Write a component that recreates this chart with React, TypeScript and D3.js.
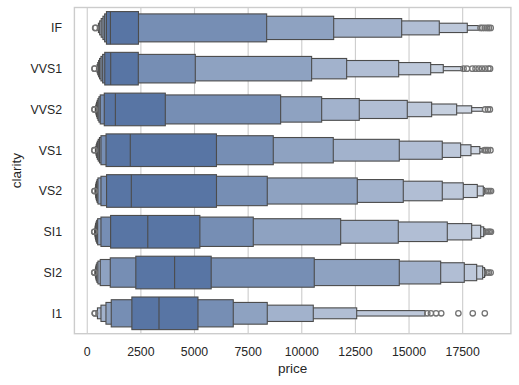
import React, { useEffect, useRef } from "react";
import * as d3 from "d3";

// letter-value summaries of price by clarity
const categories = ["IF", "VVS1", "VVS2", "VS1", "VS2", "SI1", "SI2", "I1"];

const medians = [1080, 1093, 1311, 2005, 2054, 2822, 4072, 3344];

// from the innermost box (quartiles) outward
const lowerValues = [
  [895, 811, 732, 650, 580, 520, 470],
  [816, 718, 639, 575, 530, 490, 460, 430],
  [794, 606, 545, 500, 465, 435, 410, 390, 375],
  [876, 639, 570, 513, 470, 440, 415, 395, 380],
  [900, 639, 499, 460, 430, 410, 395, 385, 375, 365],
  [1089, 639, 485, 440, 410, 390, 375, 365, 355, 350],
  [2264, 1073, 606, 499, 450, 420, 400, 385, 370, 360],
  [2080, 1119, 872, 639, 475, 405],
];

const upperValues = [
  [2388, 8363, 11487, 14657, 16410, 17715, 18274],
  [2379, 5036, 10459, 12092, 14517, 16009, 16596, 17500],
  [3638, 9015, 10927, 12680, 14918, 16054, 17220, 17920, 18420],
  [6023, 8671, 11468, 14545, 16549, 17407, 17887, 18300, 18440],
  [6024, 8391, 12587, 14731, 16549, 17528, 18181, 18461, 18517, 18563],
  [5250, 7739, 11813, 14498, 16783, 17920, 18340, 18480, 18540, 18580],
  [5777, 10582, 14545, 16475, 17575, 18153, 18433, 18520, 18570, 18610],
  [5161, 6806, 8391, 10536, 12560, 15750],
];

const outliers = [
  [369, 390, 18330, 18420, 18530, 18640, 18720, 18806],
  [336, 350, 17540, 17700, 17950, 18100, 18250, 18400, 18550, 18700, 18777],
  [336, 340, 18550, 18680, 18768],
  [327, 340, 18520, 18600, 18680, 18795],
  [334, 345, 18600, 18680, 18750, 18823],
  [326, 335, 18620, 18700, 18760, 18818],
  [326, 335, 18650, 18720, 18804],
  [345, 360, 15850, 16020, 16260, 16500, 17300, 17970, 18531],
];

const xTicks = [0, 2500, 5000, 7500, 10000, 12500, 15000, 17500];

const W = 519;
const H = 385;

const BoxenChart: React.FC = () => {
  const svgRef = useRef<SVGSVGElement>(null);

  useEffect(() => {
    if (!svgRef.current) return;
    const svg = d3.select(svgRef.current);
    svg.selectAll("*").remove();

    const plot = { left: 74.4, right: 510.9, top: 7.5, bottom: 333.7 };
    const font = "Arial, 'Liberation Sans', 'DejaVu Sans', sans-serif";
    const textColor = "#262626";
    const edge = "#4c4c4c";

    const x = d3.scaleLinear().domain([-599, 19748]).range([plot.left, plot.right]);
    const y = d3.scaleBand().domain(categories).range([plot.top, plot.bottom]);
    const band = y.bandwidth();
    const boxColor = d3.interpolateRgb("#ebeef3", "#5875a4");

    // vertical grid
    svg
      .append("g")
      .selectAll("line")
      .data(xTicks)
      .enter()
      .append("line")
      .attr("x1", (d) => x(d))
      .attr("x2", (d) => x(d))
      .attr("y1", plot.top)
      .attr("y2", plot.bottom)
      .style("stroke", "#cccccc")
      .style("stroke-width", 1.1);

    // boxes, outermost first so the inner ones sit on top
    categories.forEach((c, i) => {
      const cy = y(c)! + band / 2;
      const lows = lowerValues[i];
      const highs = upperValues[i];
      const k = lows.length;
      const g = svg.append("g");

      for (let j = k - 1; j >= 0; j--) {
        const h = (0.8 * band * (k - j)) / k;
        g.append("rect")
          .attr("x", x(lows[j]))
          .attr("y", cy - h / 2)
          .attr("width", x(highs[j]) - x(lows[j]))
          .attr("height", h)
          .style("fill", boxColor(Math.pow(2, -j / 3)))
          .style("stroke", edge)
          .style("stroke-width", 1.1);
      }

      const h0 = 0.8 * band;
      g.append("line")
        .attr("x1", x(medians[i]))
        .attr("x2", x(medians[i]))
        .attr("y1", cy - h0 / 2)
        .attr("y2", cy + h0 / 2)
        .style("stroke", edge)
        .style("stroke-width", 1.1);

      g.selectAll("circle")
        .data(outliers[i])
        .enter()
        .append("circle")
        .attr("cx", (d) => x(d))
        .attr("cy", cy)
        .attr("r", 2.7)
        .style("fill", "none")
        .style("stroke", "#737373")
        .style("stroke-width", 1.3);
    });

    // frame
    svg
      .append("rect")
      .attr("x", plot.left)
      .attr("y", plot.top)
      .attr("width", plot.right - plot.left)
      .attr("height", plot.bottom - plot.top)
      .style("fill", "none")
      .style("stroke", "#cccccc")
      .style("stroke-width", 1.4);

    // tick labels
    svg
      .append("g")
      .selectAll("text")
      .data(xTicks)
      .enter()
      .append("text")
      .attr("x", (d) => x(d))
      .attr("y", 355.5)
      .attr("text-anchor", "middle")
      .style("font-family", font)
      .style("font-size", "12.3px")
      .style("fill", textColor)
      .text((d) => String(d));

    svg
      .append("g")
      .selectAll("text")
      .data(categories)
      .enter()
      .append("text")
      .attr("x", 62)
      .attr("y", (d) => y(d)! + band / 2 + 4.4)
      .attr("text-anchor", "end")
      .style("font-family", font)
      .style("font-size", "12.3px")
      .style("fill", textColor)
      .text((d) => d);

    // axis titles
    svg
      .append("text")
      .attr("x", (plot.left + plot.right) / 2)
      .attr("y", 373)
      .attr("text-anchor", "middle")
      .style("font-family", font)
      .style("font-size", "13.5px")
      .style("fill", textColor)
      .text("price");

    svg
      .append("text")
      .attr("transform", `translate(20.5,${(plot.top + plot.bottom) / 2}) rotate(-90)`)
      .attr("text-anchor", "middle")
      .style("font-family", font)
      .style("font-size", "13.5px")
      .style("fill", textColor)
      .text("clarity");
  }, []);

  return (
    <svg
      ref={svgRef}
      width={W}
      height={H}
      style={{ position: "absolute", left: 0, top: 0, background: "#ffffff" }}
    />
  );
};

export default function App() {
  return <BoxenChart />;
}
